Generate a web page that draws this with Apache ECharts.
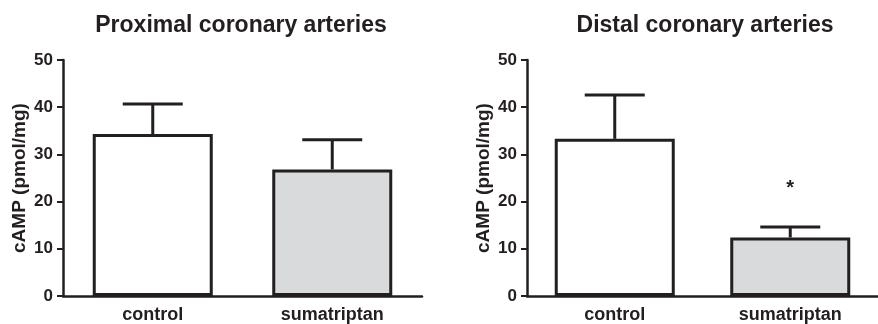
<!DOCTYPE html>
<html>
<head>
<meta charset="utf-8">
<script src="https://cdn.jsdelivr.net/npm/echarts@6/dist/echarts.min.js"></script>
<style>
  html, body { margin: 0; padding: 0; background: #fff; }
  #chart { width: 878px; height: 324px; }
</style>
</head>
<body>
<div id="chart"></div>
<script>
// cAMP content (pmol/mg), mean and mean + SEM for each group
const categories = ['control', 'sumatriptan'];
const panelTitles = ['Proximal coronary arteries', 'Distal coronary arteries'];
const proximalMean = [34.3, 26.8];
const proximalUpper = [40.7, 33.1];
const distalMean = [33.3, 12.4];
const distalUpper = [42.6, 14.6];
const distalSignificance = ['', '*'];
const yTicks = { min: 0, max: 50, interval: 10 };
const yAxisTitle = 'cAMP (pmol/mg)';

const INK = '#231f20';
const FONT = '"Liberation Sans", Arial, Helvetica, sans-serif';
const fills = ['#ffffff', '#d9dadc'];

const panels = [
  { mean: proximalMean, upper: proximalUpper, marks: ['', ''], left: 63 },
  { mean: distalMean, upper: distalUpper, marks: distalSignificance, left: 527 }
];

const grids = panels.map(p => ({ left: p.left, width: 359, top: 60, bottom: 27, containLabel: false }));

const xAxes = panels.map((p, i) => ({
  type: 'category', gridIndex: i, data: categories,
  axisLine: { lineStyle: { color: INK, width: 2.5 } },
  axisTick: { show: false },
  axisLabel: { color: INK, fontFamily: FONT, fontWeight: 'bold', fontSize: 18, margin: 10 }
}));

const yAxes = panels.map((p, i) => ({
  type: 'value', gridIndex: i, min: yTicks.min, max: yTicks.max, interval: yTicks.interval,
  name: yAxisTitle, nameLocation: 'middle', nameGap: 34,
  nameTextStyle: { color: INK, fontFamily: FONT, fontWeight: 'bold', fontSize: 19 },
  axisLine: { show: true, lineStyle: { color: INK, width: 2.5 } },
  axisTick: { show: true, length: 6, lineStyle: { color: INK, width: 2 } },
  axisLabel: { color: INK, fontFamily: FONT, fontWeight: 'bold', fontSize: 17, margin: 10 },
  splitLine: { show: false }
}));

const series = [];
panels.forEach((p, i) => {
  series.push({
    type: 'bar', xAxisIndex: i, yAxisIndex: i, barWidth: 120,
    data: p.mean.map((v, k) => ({
      value: v,
      itemStyle: { color: fills[k], borderColor: INK, borderWidth: 3 }
    })),
    z: 2
  });
  // upper error whisker with cap, plus any significance mark above it
  series.push({
    type: 'custom', xAxisIndex: i, yAxisIndex: i, z: 1,
    data: p.mean.map((v, k) => [k, v, p.upper[k]]),
    renderItem: (params, api) => {
      const top = api.coord([api.value(0), api.value(1)]);
      const err = api.coord([api.value(0), api.value(2)]);
      const halfCap = 30;
      const style = { stroke: INK, lineWidth: 3 };
      const children = [
        { type: 'line', shape: { x1: top[0], y1: top[1], x2: err[0], y2: err[1] }, style },
        { type: 'line', shape: { x1: err[0] - halfCap, y1: err[1], x2: err[0] + halfCap, y2: err[1] }, style }
      ];
      const mark = p.marks[params.dataIndex];
      if (mark) {
        children.push({
          type: 'text',
          style: {
            text: mark, x: err[0], y: err[1] - 39,
            textAlign: 'center', textVerticalAlign: 'middle',
            fill: INK, font: 'bold 20px ' + FONT
          }
        });
      }
      return { type: 'group', children };
    }
  });
});

const chart = echarts.init(document.getElementById('chart'), null, { renderer: 'canvas' });
chart.setOption({
  animation: false,
  backgroundColor: '#ffffff',
  title: [
    { text: panelTitles[0], left: 236, top: 9, textAlign: 'center',
      textStyle: { color: INK, fontFamily: FONT, fontWeight: 'bold', fontSize: 23 } },
    { text: panelTitles[1], left: 700, top: 9, textAlign: 'center',
      textStyle: { color: INK, fontFamily: FONT, fontWeight: 'bold', fontSize: 23 } }
  ],
  grid: grids,
  xAxis: xAxes,
  yAxis: yAxes,
  series
});
</script>
</body>
</html>
